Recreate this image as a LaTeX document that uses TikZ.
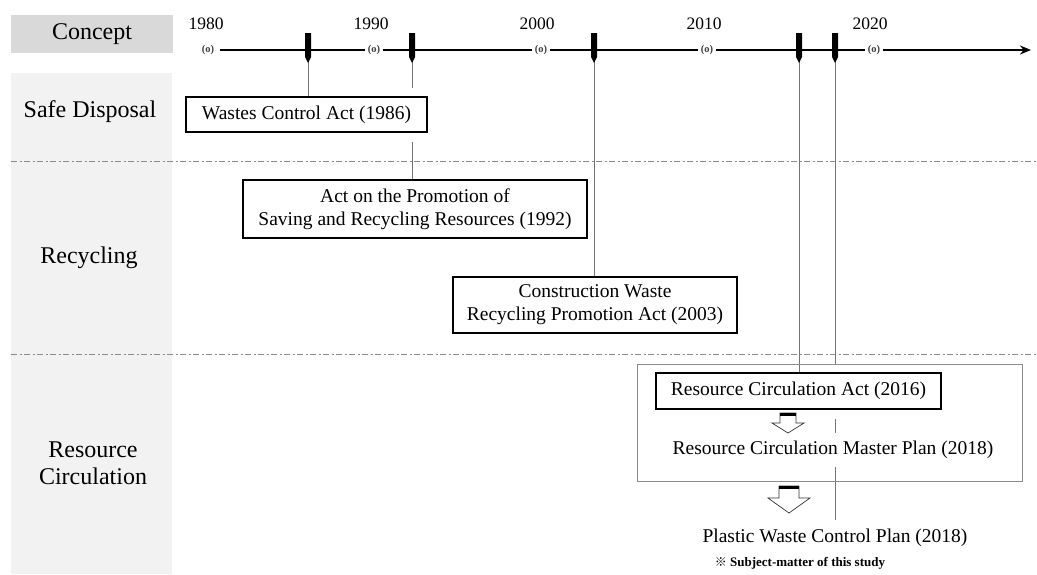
\documentclass[tikz,border=0pt]{standalone}
\usepackage{fontspec}
\setmainfont{Liberation Serif}
\newfontfamily\cjkfont{Noto Sans CJK SC}
\usetikzlibrary{arrows.meta,calc}
\definecolor{conceptgray}{HTML}{D9D9D9}
\definecolor{colgray}{HTML}{F2F2F2}
\begin{document}
\begin{tikzpicture}[x=1pt,y=-1pt,
  lab/.style={font=\fontsize{24}{27}\selectfont, align=center, inner sep=0pt},
  yr/.style={font=\fontsize{17.5}{20}\selectfont, inner sep=0pt},
  tick/.style={fill=white, inner sep=2.5pt, font=\bfseries\fontsize{10.5}{12}\selectfont, text=black!75},
  actbox/.style={draw=black, line width=1.3pt, fill=white, inner sep=0pt, align=center, font=\fontsize{19.5}{23}\selectfont},
  plain/.style={font=\fontsize{19.5}{23}\selectfont, inner sep=0pt},
  halo/.style={preaction={draw=white, line width=19pt}},
  vline/.style={draw=black!55, line width=0.9pt},
  sepline/.style={draw=black!45, line width=0.9pt, dash pattern=on 6pt off 2.5pt on 2pt off 2.5pt},
  tmarker/.style={fill=black},
  hollow/.style={draw=black!80, fill=white, line width=0.7pt}
]
\useasboundingbox (0,0) rectangle (1037,574);
% left column
\fill[conceptgray] (11,15) rectangle (173,53);
\node[lab] (concept) at (92,34) {Concept};
\fill[colgray] (11,73) rectangle (172,574);
\node[lab] (safe) at (90,112) {Safe Disposal};
\node[lab] (recy) at (89,258) {Recycling};
\node[lab] (rcl) at (93,463) {Resource\\Circulation};
% separators
\coordinate (s1l) at (11,161); \coordinate (s1r) at (1037,161);
\coordinate (s2l) at (11,354); \coordinate (s2r) at (1037,354);
\draw[sepline] (s1l) -- (s1r);
\draw[sepline] (s2l) -- (s2r);
% timeline
\coordinate (tl0) at (220,50); \coordinate (tl1) at (1031,50);
\draw[line width=2pt, -{Stealth[length=11pt,width=9pt]}] (tl0) -- (tl1);
\foreach \yy/\xx in {1980/208,1990/374,2000/541,2010/707,2020/874}
  \node[tick] (o\yy) at (\xx,50) {(o)};
\foreach \yy/\xx in {1980/206,1990/371,2000/537,2010/704,2020/870}
  \node[yr] (y\yy) at (\xx,24) {\yy};
% marker coordinates
\foreach \yy/\xx in {1986/308,1992/412,2003/594,2016/799,2018/835}
  \coordinate (k\yy) at (\xx,60);
\coordinate (e2018) at (835,520);
% boxes without halo
\node[actbox, minimum width=344, minimum height=58] (pr) at (415,209)
  {Act on the Promotion of\\Saving and Recycling Resources (1992)};
\node[actbox, minimum width=284, minimum height=56] (con) at (595,305)
  {Construction Waste\\Recycling Promotion Act (2003)};
% lines passing behind boxes
\draw[vline] (k1992) -- (pr.north -| k1992);
\draw[vline] (k2018) -- (e2018);
% boxes with halo
\node[actbox, halo, minimum width=241, minimum height=35] (wc) at (306.5,114.5)
  {Wastes Control Act (1986)};
\node[actbox, halo, minimum width=285, minimum height=36] (rca) at (798.5,391)
  {Resource Circulation Act (2016)};
\node[plain, fill=white, inner sep=8pt] (rcmp) at (833,450)
  {Resource Circulation Master Plan (2018)};
% lines ending at boxes
\draw[vline] (k1986) -- (wc.north -| k1986);
\draw[vline] (k2003) -- (con.north -| k2003);
\draw[vline] (k2016) -- (rca.north -| k2016);
% group box
\node[draw=black!45, line width=0.9pt, minimum width=385, minimum height=117, inner sep=0pt] (grp) at (829.5,422.5) {};
% hollow arrows
\coordinate (a1) at (788,413);
\coordinate (a2) at (789,486);
\draw[hollow, shift={(a1)}] (-8,0) -- (8,0) -- (8,10) -- (16,10) -- (0,20) -- (-16,10) -- (-8,10) -- cycle;
\draw[line width=3pt, shift={(a1)}] (-8,1.5) -- (8,1.5);
\draw[hollow, shift={(a2)}] (-10,0) -- (10,0) -- (10,12) -- (21,12) -- (0,27) -- (-21,12) -- (-10,12) -- cycle;
\draw[line width=3pt, shift={(a2)}] (-10,1.5) -- (10,1.5);
% bottom texts
\node[plain] (pw) at (835,538) {Plastic Waste Control Plan (2018)};
\node[font=\bfseries\fontsize{13}{15}\selectfont, inner sep=0pt] (note) at (800,563)
  {{\cjkfont\fontsize{12}{15}\selectfont ※} Subject-matter of this study};
% timeline markers
\foreach \yy in {1986,1992,2003,2016,2018}
  \fill[tmarker] ($(k\yy)+(-3,-27)$) -- ($(k\yy)+(3,-27)$) -- ($(k\yy)+(3,-3)$) -- ($(k\yy)+(0,3)$) -- ($(k\yy)+(-3,-3)$) -- cycle;
\end{tikzpicture}
\end{document}
